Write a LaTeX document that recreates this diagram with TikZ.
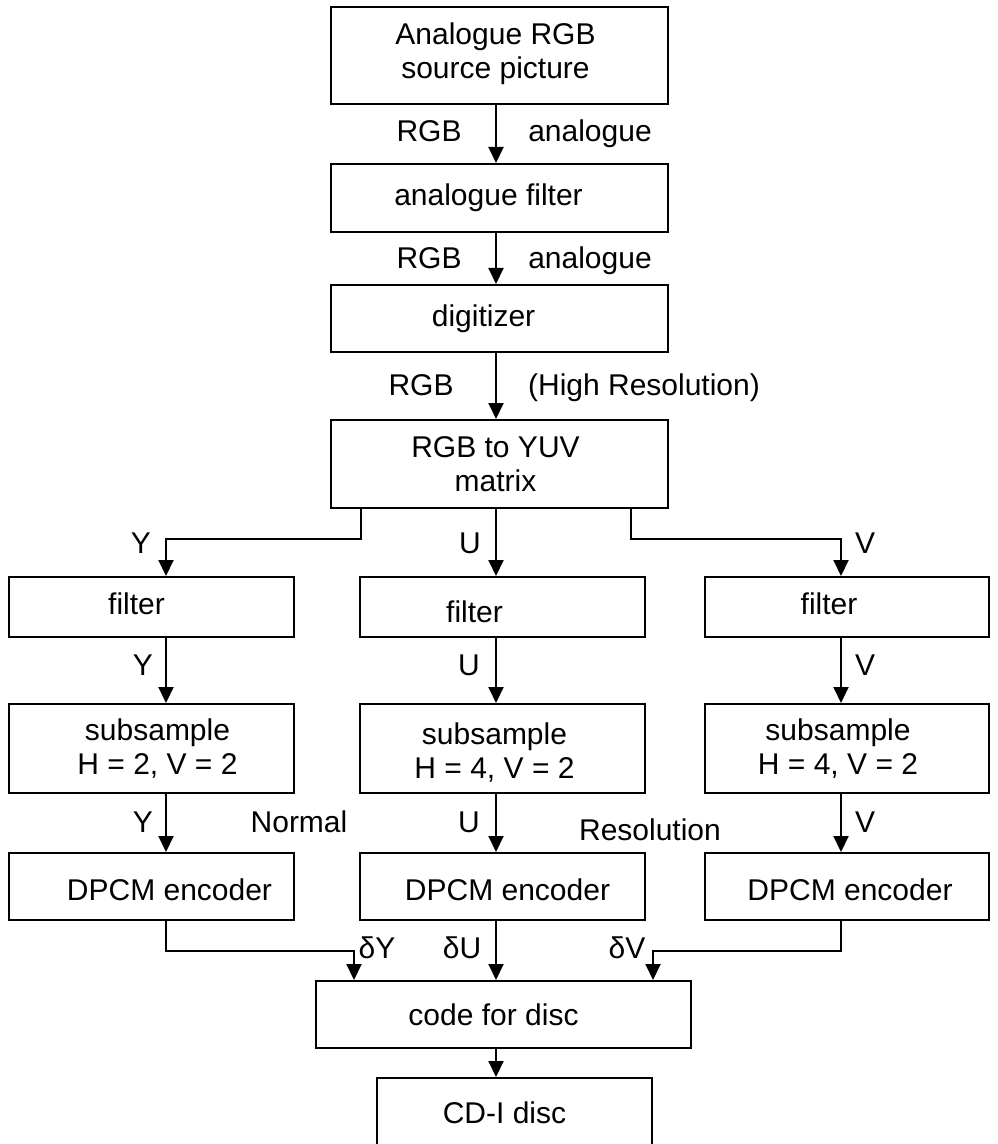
\documentclass[tikz,border=0pt]{standalone}
\usepackage{fontspec}
\setmainfont{Liberation Sans}
\usetikzlibrary{arrows.meta}
\begin{document}
\begin{tikzpicture}[x=0.5pt,y=-0.5pt,line width=1pt,
  every node/.style={font=\fontsize{15}{17}\selectfont},
  box/.style 2 args={draw,rectangle,inner sep=0pt,minimum width=#1,minimum height=#2},
  txt/.style={align=center,inner sep=0pt},
  flow/.style={-{Triangle[length=8pt,width=7.5pt]}},
  tag/.style={anchor=base,inner sep=0pt}]
\useasboundingbox (0,0) rectangle (997,1144);

% main chain
\node[box={168.5pt}{48.5pt},label={[txt,shift={(-4,-2)}]center:{Analogue RGB\\source picture}}] (src) at (499.5,55.5) {};
\node[box={168.5pt}{34pt},label={[txt,shift={(-11,0)}]center:analogue filter}] (afilt) at (499.5,198) {};
\node[box={168.5pt}{33.5pt},label={[txt,shift={(-16,0)}]center:digitizer}] (dig) at (499.5,318.5) {};
\node[box={168.5pt}{44pt},label={[txt,shift={(-4,0)}]center:{RGB to YUV\\matrix}}] (mat) at (499.5,464) {};

% filters
\node[box={142.5pt}{30pt},label={[txt,shift={(-15,-3)}]center:filter}] (filtY) at (151.5,607) {};
\node[box={142.5pt}{30pt},label={[txt,shift={(-28,5)}]center:filter}] (filtU) at (502.5,607) {};
\node[box={142pt}{30pt},label={[txt,shift={(-18,-3)}]center:filter}] (filtV) at (847,607) {};

% subsamplers
\node[box={142.5pt}{44.5pt},label={[txt,shift={(6,0)}]center:{subsample\\H = 2, V = 2}}] (subY) at (151.5,748.5) {};
\node[box={142.5pt}{44.5pt},label={[txt,shift={(-8,4)}]center:{subsample\\H = 4, V = 2}}] (subU) at (502.5,748.5) {};
\node[box={142pt}{44.5pt},label={[txt,shift={(-9,0)}]center:{subsample\\H = 4, V = 2}}] (subV) at (847,748.5) {};

% DPCM encoders
\node[box={142.5pt}{33.5pt},label={[txt,shift={(18,3)}]center:DPCM encoder}] (dpY) at (151.5,886.5) {};
\node[box={142.5pt}{33.5pt},label={[txt,shift={(5,3)}]center:DPCM encoder}] (dpU) at (502.5,886.5) {};
\node[box={142pt}{33.5pt},label={[txt,shift={(3,3)}]center:DPCM encoder}] (dpV) at (847,886.5) {};

% output
\node[box={187.5pt}{33.5pt},label={[txt,shift={(-10,0)}]center:code for disc}] (code) at (503.5,1014.5) {};
\node[box={137.5pt}{34.5pt},label={[txt,shift={(-10,0)}]center:CD-I disc}] (cdi) at (514.5,1112.5) {};

% connector columns and bus levels
\coordinate (cY) at (166,0);
\coordinate (cU) at (496,0);
\coordinate (cV) at (841,0);
\coordinate (jY) at (361,0);
\coordinate (jV) at (631,0);
\coordinate (dY) at (354,0);
\coordinate (dV) at (653,0);
\coordinate (busA) at (0,539);
\coordinate (busB) at (0,951);

\draw[flow] (src.south -| cU) -- (afilt.north -| cU);
\draw[flow] (afilt.south -| cU) -- (dig.north -| cU);
\draw[flow] (dig.south -| cU) -- (mat.north -| cU);
\draw[flow] (mat.south -| cU) -- (filtU.north -| cU);
\draw[flow] (mat.south -| jY) |- (busA -| cY) -- (filtY.north -| cY);
\draw[flow] (mat.south -| jV) |- (busA -| cV) -- (filtV.north -| cV);
\foreach \c in {Y,U,V}{
  \draw[flow] (filt\c.south -| c\c) -- (sub\c.north -| c\c);
  \draw[flow] (sub\c.south -| c\c) -- (dp\c.north -| c\c);
}
\draw[flow] (dpY.south -| cY) |- (busB -| dY) -- (code.north -| dY);
\draw[flow] (dpU.south -| cU) -- (code.north -| cU);
\draw[flow] (dpV.south -| cV) |- (busB -| dV) -- (code.north -| dV);
\draw[flow] (code.south -| cU) -- (cdi.north -| cU);

% signal labels
\node[tag] (l1a) at (429,142) {RGB};
\node[tag] (l1b) at (590,142) {analogue};
\node[tag] (l2a) at (429,269) {RGB};
\node[tag] (l2b) at (590,269) {analogue};
\node[tag] (l3a) at (421,395) {RGB};
\node[tag] (l3b) at (644,395) {(High Resolution)};
\node[tag] (y1) at (141,553) {Y};
\node[tag] (u1) at (470,553) {U};
\node[tag] (v1) at (865,553) {V};
\node[tag] (y2) at (143,675) {Y};
\node[tag] (u2) at (469,675) {U};
\node[tag] (v2) at (865,675) {V};
\node[tag] (y3) at (143,832) {Y};
\node[tag] (nrm) at (299,832) {Normal};
\node[tag] (u3) at (469,832) {U};
\node[tag] (res) at (650,840) {Resolution};
\node[tag] (v3) at (865,832) {V};
\node[tag] (dYl) at (377,958) {δY};
\node[tag] (dUl) at (462,958) {δU};
\node[tag] (dVl) at (627,958) {δV};
\end{tikzpicture}
\end{document}
